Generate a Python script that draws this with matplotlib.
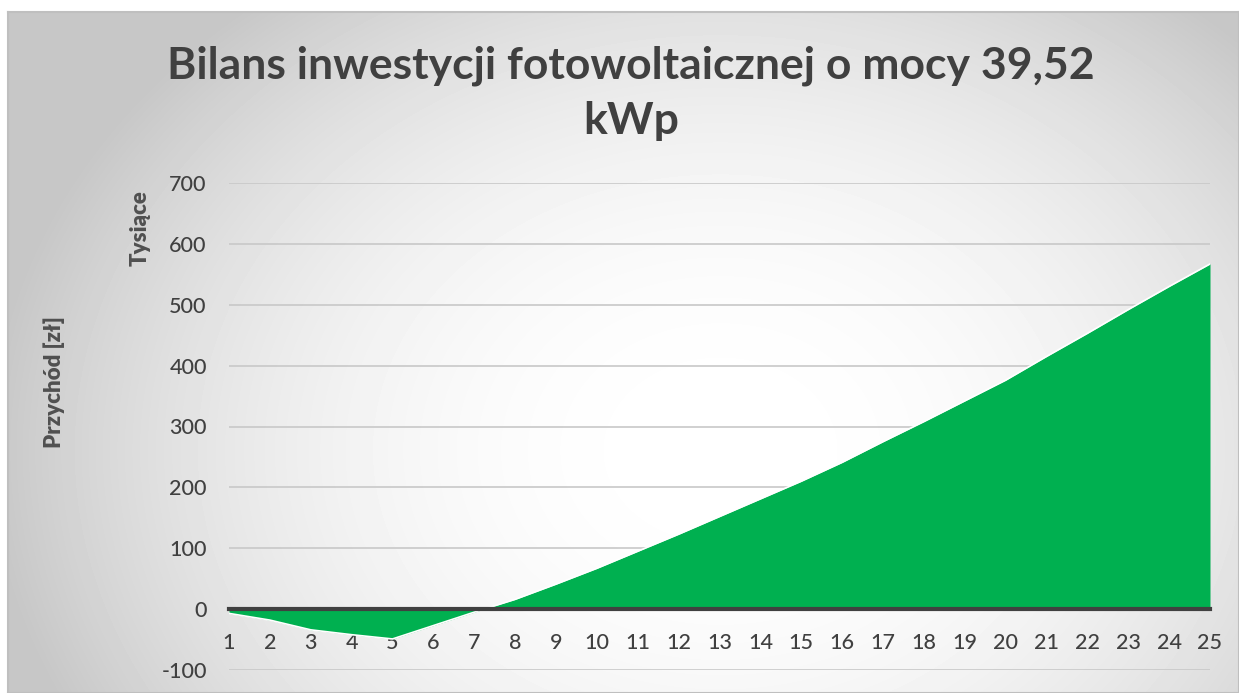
import numpy as np
import matplotlib
matplotlib.use('Agg')
import matplotlib.pyplot as plt

# dane (tys. zł)
years = list(range(1, 26))
balance = [-7, -18, -34, -42, -49, -27, -5, 16, 41, 67, 95, 123, 152, 181, 210,
           241, 275, 308, 342, 376, 415, 453, 492, 530, 567]
y_ticks = [-100, 0, 100, 200, 300, 400, 500, 600, 700]

title = 'Bilans inwestycji fotowoltaicznej o mocy 39,52\nkWp'
unit_label = 'Tysiące'
y_label = 'Przychód [zł]'

plt.rcParams['font.family'] = ['Lato', 'DejaVu Sans']
plt.rcParams['axes.unicode_minus'] = False

W, H = 1239, 693
fig = plt.figure(figsize=(W / 100., H / 100.), dpi=100)

# tlo - gradient radialny jak w Excelu
bg = fig.add_axes([8. / W, 0, 1 - 8. / W, 1 - 12. / H])
xx, yy = np.meshgrid(np.arange(8, W), np.arange(12, H))
d = np.sqrt(((xx - 720) / 730.) ** 2 + ((yy - 450) / 580.) ** 2)
shade = 1 - (1 - 0.78) * np.clip(d, 0, 1) ** 2.2
bg.imshow(shade, cmap='gray', vmin=0, vmax=1, aspect='auto', interpolation='bilinear')
bg.set_xticks([])
bg.set_yticks([])
for s in bg.spines.values():
    s.set_color('#bfbfbf')
    s.set_linewidth(1.5)

ax = fig.add_axes([229. / W, 1 - 670. / H, (1210 - 229.) / W, (670 - 183.) / H])
ax.patch.set_alpha(0)

for v in y_ticks:
    if v != 0:
        ax.axhline(v, color='#c8c8c8', linewidth=1.2, zorder=1)

ax.fill_between(years, balance, 0, color='#00b050', linewidth=0, zorder=2)
ax.plot(years, balance, color='white', linewidth=1.2, zorder=2)

ax.set_xlim(1, 25)
ax.set_ylim(-100, 700)
ax.set_xticks(years)
ax.set_yticks(y_ticks)

for side in ['top', 'right', 'left']:
    ax.spines[side].set_visible(False)
ax.spines['bottom'].set_position(('data', 0))
ax.spines['bottom'].set_color('#404040')
ax.spines['bottom'].set_linewidth(3)
ax.spines['bottom'].set_zorder(3)

ax.tick_params(axis='x', length=0, pad=17, labelsize=15.5, labelcolor='#404040')
ax.tick_params(axis='y', length=0, pad=16, labelsize=15.5, labelcolor='#404040')
for lab in ax.get_xticklabels() + ax.get_yticklabels():
    lab.set_fontweight('medium')

fig.text(631. / W, 1 - 46. / H, title, ha='center', va='top', multialignment='center',
         fontsize=32, fontweight='bold', color='#404040', linespacing=1.45)
fig.text(140. / W, 1 - 228. / H, unit_label, rotation=90, ha='center', va='center',
         fontsize=16, fontweight='heavy', color='#505050')
fig.text(54. / W, 1 - 382. / H, y_label, rotation=90, ha='center', va='center',
         fontsize=16, fontweight='heavy', color='#505050')

fig.savefig('out.png', dpi=100)
